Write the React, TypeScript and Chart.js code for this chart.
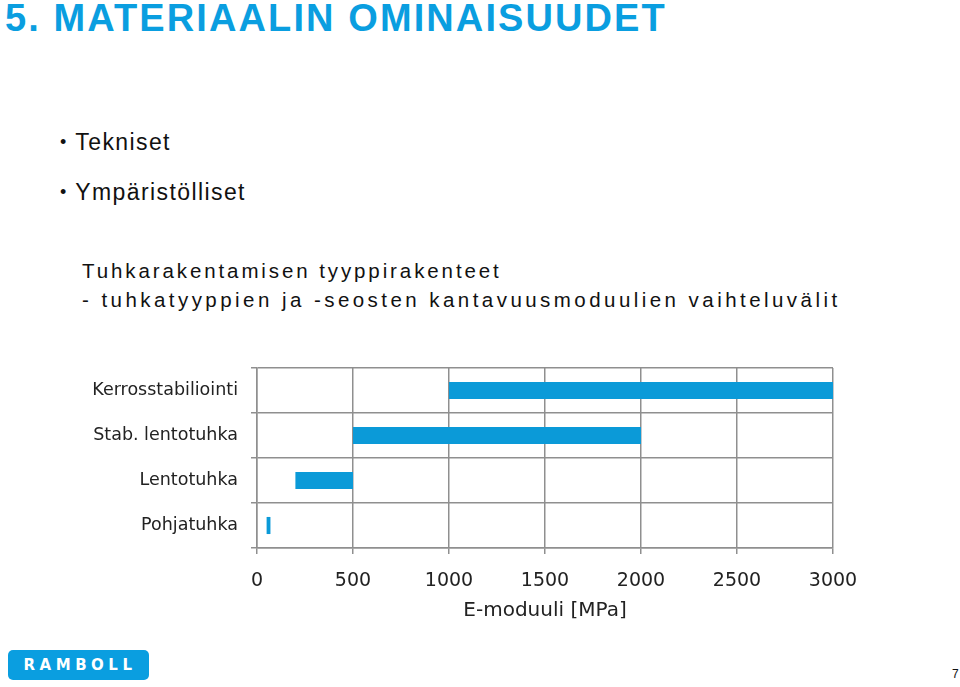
import React, { useEffect, useRef } from "react";
import { Chart, registerables } from "chart.js";

Chart.register(...registerables);

const categories = ["Kerrosstabiliointi", "Stab. lentotuhka", "Lentotuhka", "Pohjatuhka"];
const rangeStart = [1000, 500, 200, 50];
const rangeEnd = [3000, 2000, 500, 70];
const xTicks = [0, 500, 1000, 1500, 2000, 2500, 3000];
const xTitle = "E-moduuli [MPa]";

const BLUE = "#0b9ad8";
const GRID = "#8f8f8f";
const LABEL_FONT = "'DejaVu Sans', Verdana, sans-serif";

function BarChart() {
  const ref = useRef<HTMLCanvasElement | null>(null);
  useEffect(() => {
    if (!ref.current) return;
    const chart = new Chart(ref.current, {
      type: "bar",
      data: {
        labels: categories,
        datasets: [
          {
            data: categories.map((_, i) => [rangeStart[i], rangeEnd[i]]) as any,
            backgroundColor: BLUE,
            borderWidth: 0,
            barPercentage: 0.38,
            categoryPercentage: 1,
          },
        ],
      },
      options: {
        indexAxis: "y",
        animation: false,
        responsive: false,
        layout: { padding: { top: 28, right: 127, bottom: 0, left: 0 } },
        plugins: { legend: { display: false }, tooltip: { enabled: false } },
        scales: {
          x: {
            type: "linear",
            min: 0,
            max: 3000,
            afterBuildTicks: (scale: any) => {
              scale.ticks = xTicks.map((v) => ({ value: v }));
            },
            afterFit: (scale: any) => {
              scale.height = 92;
            },
            grid: { color: GRID, lineWidth: 1.5, tickLength: 6 },
            border: { color: GRID, width: 1.5 },
            ticks: {
              padding: 16,
              color: "#222",
              font: { family: LABEL_FONT, size: 19 },
              callback: (v: any) => String(v),
            },
            title: {
              display: true,
              text: xTitle,
              color: "#222",
              font: { family: LABEL_FONT, size: 20 },
              padding: { top: 0, bottom: 17 },
            },
          },
          y: {
            type: "category",
            afterFit: (scale: any) => {
              scale.width = 257;
            },
            grid: { color: GRID, lineWidth: 1.5, tickLength: 6 },
            border: { color: GRID, width: 1.5 },
            ticks: {
              padding: 13,
              color: "#222",
              font: { family: LABEL_FONT, size: 17.5 },
            },
          },
        },
      },
    });
    return () => chart.destroy();
  }, []);
  return <canvas ref={ref} width={960} height={300} style={{ display: "block", width: 960, height: 300 }} />;
}

export default function App() {
  const sans = "'Liberation Sans', Arial, sans-serif";
  return (
    <div
      style={{
        position: "absolute",
        left: 0,
        top: 0,
        width: 960,
        height: 687,
        background: "#fff",
        overflow: "hidden",
        fontFamily: sans,
      }}
    >
      <div
        style={{
          position: "absolute",
          left: 5,
          top: -3,
          fontSize: 38,
          fontWeight: "bold",
          color: "#0a9ee0",
          whiteSpace: "nowrap",
          letterSpacing: 2.1,
        }}
      >
        5. MATERIAALIN OMINAISUUDET
      </div>
      <div style={{ position: "absolute", left: 60, top: 129, fontSize: 23, letterSpacing: 1.4, color: "#111", whiteSpace: "nowrap" }}>
        <span style={{ fontSize: 18, position: "relative", top: -2, marginRight: 9, letterSpacing: 0 }}>•</span>Tekniset
      </div>
      <div style={{ position: "absolute", left: 60, top: 179, fontSize: 23, letterSpacing: 1.4, color: "#111", whiteSpace: "nowrap" }}>
        <span style={{ fontSize: 18, position: "relative", top: -2, marginRight: 9, letterSpacing: 0 }}>•</span>Ympäristölliset
      </div>
      <div
        style={{
          position: "absolute",
          left: 82,
          top: 256,
          fontSize: 20.5,
          lineHeight: "29px",
          color: "#111",
          whiteSpace: "nowrap",
          letterSpacing: 3.2,
        }}
      >
        <div style={{ letterSpacing: 2.9 }}>Tuhkarakentamisen tyyppirakenteet</div>
        <div style={{ letterSpacing: 3.45 }}>- tuhkatyyppien ja -seosten kantavuusmoduulien vaihteluvälit</div>
      </div>
      <div style={{ position: "absolute", left: 0, top: 340 }}>
        <BarChart />
      </div>
      <div
        style={{
          position: "absolute",
          left: 8,
          top: 650,
          width: 141,
          height: 30,
          borderRadius: 5,
          background: "#0a9ee0",
          color: "#fff",
          fontFamily: "'DejaVu Sans', sans-serif",
          fontWeight: "bold",
          fontSize: 15,
          letterSpacing: 4.5,
          lineHeight: "30px",
          textAlign: "center",
          paddingLeft: 3,
          boxSizing: "border-box",
        }}
      >
        RAMBOLL
      </div>
      <div style={{ position: "absolute", left: 952, top: 667, fontSize: 12, color: "#111" }}>7</div>
    </div>
  );
}
